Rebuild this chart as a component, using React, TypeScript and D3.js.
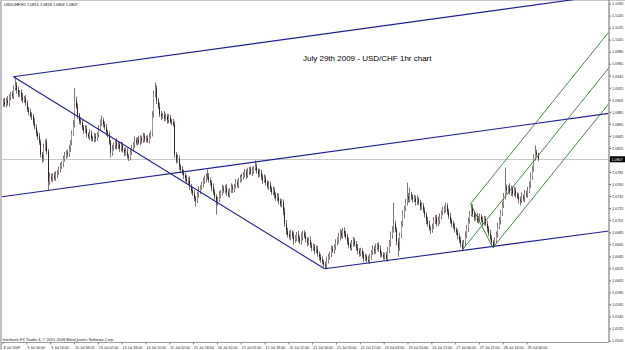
import React from 'react';
import * as d3 from 'd3';

const symbolHeader = 'USDCHF,H1  1.0815 1.0818 1.0804 1.0807';
const chartTitle = 'July 29th 2009 - USD/CHF 1hr chart';
const copyright = 'Interbank FX Trader 4, \u00a9 2001-2008 MetaQuotes Software Corp.';
const lastPriceLabel = '1.0807';
const lastPrice = 1.0807;

const timeLabels = [
  '8 Jul 2009', '9 Jul 00:00', '9 Jul 16:00', '10 Jul 08:00', '13 Jul 02:00', '13 Jul 18:00',
  '14 Jul 10:00', '15 Jul 02:00', '15 Jul 18:00', '16 Jul 10:00', '17 Jul 02:00', '17 Jul 18:00',
  '20 Jul 12:00', '21 Jul 04:00', '21 Jul 20:00', '22 Jul 12:00', '23 Jul 04:00', '23 Jul 20:00',
  '24 Jul 12:00', '27 Jul 06:00', '27 Jul 22:00', '28 Jul 14:00', '29 Jul 06:00',
];
const barsPerTimeLabel = 16;

const priceLabels = [
  '1.1065', '1.1045', '1.1025', '1.1005', '1.0985', '1.0965', '1.0945', '1.0925', '1.0905', '1.0885',
  '1.0865', '1.0845', '1.0825', '1.0805', '1.0785', '1.0765', '1.0745', '1.0725', '1.0705', '1.0685',
  '1.0665', '1.0645', '1.0625', '1.0605', '1.0585', '1.0565', '1.0545', '1.0525', '1.0505',
];

// prices in pips above 1.0000
const firstOpen = 900;
const closes = [
  903, 898, 905, 900, 910, 915, 912, 925, 930, 922, 915, 918, 910, 905, 908, 900,
  890, 885, 880, 878, 868, 860, 850, 845, 835, 815, 808, 825, 835, 820, 770, 778,
  775, 780, 776, 782, 785, 790, 795, 800, 808, 812, 818, 815, 825, 835, 850, 865,
  905, 895, 880, 870, 868, 860, 855, 858, 848, 845, 850, 842, 840, 845, 842, 848,
  858, 868, 872, 865, 860, 852, 848, 835, 818, 825, 830, 835, 828, 832, 825, 830,
  822, 818, 820, 812, 810, 818, 825, 832, 838, 835, 840, 836, 842, 838, 845, 840,
  842, 838, 845, 850, 880, 915, 925, 905, 895, 882, 878, 880, 875, 878, 872, 876,
  870, 868, 865, 815, 805, 808, 795, 790, 785, 780, 775, 770, 772, 762, 755, 750,
  742, 738, 748, 755, 760, 765, 770, 775, 780, 778, 772, 768, 760, 752, 745, 735,
  740, 748, 752, 758, 755, 760, 752, 748, 755, 760, 757, 762, 768, 765, 772, 775,
  778, 782, 785, 780, 786, 790, 785, 788, 792, 795, 788, 782, 785, 778, 772, 775,
  768, 762, 765, 758, 752, 755, 748, 742, 745, 738, 732, 735, 720, 700, 688, 682,
  678, 685, 680, 672, 676, 682, 675, 670, 678, 684, 680, 674, 668, 672, 665, 660,
  662, 655, 658, 650, 645, 640, 636, 632, 630, 638, 645, 650, 658, 655, 662, 668,
  672, 678, 685, 680, 688, 684, 678, 670, 665, 660, 668, 672, 666, 660, 655, 650,
  655, 648, 642, 645, 640, 638, 645, 652, 658, 655, 660, 664, 658, 650, 648, 645,
  648, 642, 655, 668, 680, 690, 700, 690, 670, 660, 680, 700, 715, 725, 735, 745,
  740, 748, 745, 740, 742, 736, 740, 735, 728, 730, 722, 715, 705, 700, 692, 690,
  695, 705, 710, 700, 705, 712, 718, 722, 725, 730, 720, 712, 705, 700, 695, 690,
  686, 680, 673, 666, 661, 668, 680, 692, 705, 716, 726, 716, 710, 712, 705, 708,
  712, 706, 702, 708, 700, 692, 684, 676, 669, 663, 672, 682, 695, 705, 718, 730,
  745, 760, 755, 760, 752, 758, 750, 755, 748, 745, 740, 738, 745, 742, 750, 748,
  755, 765, 778, 790, 810, 818, 815, 807,
];
const wickUp = [
  5, 6, 4, 7, 5, 4, 6, 5, 13, 5, 6, 4, 5, 7, 4, 6,
  5, 4, 6, 5, 4, 7, 5, 4, 6, 5, 4, 8, 5, 6, 4, 7,
  5, 4, 6, 5, 4, 5, 6, 4, 5, 7, 4, 5, 6, 4, 5, 7,
  20, 6, 5, 4, 7, 5, 4, 6, 5, 4, 7, 5, 4, 6, 5, 4,
  6, 5, 8, 4, 5, 6, 4, 5, 4, 6, 5, 4, 7, 5, 4, 6,
  5, 4, 6, 5, 4, 5, 6, 4, 7, 5, 4, 6, 5, 4, 6, 5,
  4, 5, 6, 5, 7, 6, 10, 5, 4, 6, 5, 4, 7, 5, 4, 6,
  5, 4, 6, 5, 4, 7, 5, 4, 6, 5, 4, 6, 5, 7, 4, 5,
  6, 4, 5, 7, 4, 5, 6, 5, 4, 10, 6, 5, 4, 7, 5, 4,
  5, 6, 4, 7, 5, 4, 6, 5, 4, 7, 5, 4, 6, 5, 4, 6,
  5, 4, 6, 5, 7, 4, 5, 6, 4, 10, 5, 4, 6, 5, 4, 7,
  5, 4, 6, 5, 4, 7, 5, 4, 6, 5, 4, 6, 5, 7, 6, 5,
  6, 5, 4, 7, 5, 4, 6, 5, 7, 4, 5, 6, 4, 5, 7, 4,
  5, 4, 6, 5, 4, 5, 6, 4, 5, 7, 5, 4, 6, 5, 4, 6,
  5, 7, 6, 4, 5, 6, 4, 5, 7, 4, 5, 6, 4, 5, 6, 4,
  5, 4, 6, 5, 4, 7, 5, 4, 6, 5, 7, 4, 5, 6, 4, 5,
  4, 5, 6, 5, 7, 6, 35, 5, 4, 6, 5, 4, 7, 5, 6, 23,
  6, 12, 5, 4, 6, 5, 7, 4, 5, 6, 4, 5, 4, 6, 5, 4,
  5, 6, 4, 5, 7, 5, 4, 6, 5, 5, 4, 5, 6, 4, 5, 6,
  4, 5, 4, 5, 6, 5, 7, 6, 5, 5, 7, 6, 5, 4, 6, 5,
  5, 4, 6, 5, 4, 5, 4, 6, 5, 4, 6, 5, 7, 6, 5, 7,
  6, 33, 5, 4, 7, 5, 4, 6, 5, 4, 6, 5, 7, 4, 6, 5,
  6, 5, 7, 6, 5, 12, 5, 3,
];
const wickDown = [
  6, 4, 5, 4, 6, 5, 4, 5, 4, 6, 5, 4, 6, 5, 4, 5,
  4, 5, 4, 6, 5, 4, 5, 6, 4, 5, 7, 5, 4, 5, 15, 6,
  5, 6, 4, 5, 6, 4, 5, 4, 6, 5, 4, 5, 4, 6, 5, 4,
  5, 4, 6, 5, 4, 5, 6, 4, 5, 4, 6, 5, 4, 5, 6, 4,
  5, 4, 6, 5, 4, 6, 5, 4, 8, 5, 4, 6, 5, 4, 6, 5,
  4, 6, 5, 4, 6, 5, 4, 5, 6, 4, 5, 4, 6, 5, 4, 5,
  5, 4, 5, 4, 5, 4, 5, 6, 4, 5, 6, 4, 5, 4, 6, 5,
  4, 5, 4, 6, 5, 4, 6, 5, 4, 6, 5, 4, 5, 6, 5, 4,
  5, 10, 4, 5, 6, 4, 5, 4, 6, 5, 4, 5, 6, 4, 5, 20,
  5, 4, 6, 5, 4, 5, 6, 4, 5, 4, 6, 5, 4, 5, 6, 4,
  5, 4, 5, 6, 4, 5, 4, 6, 5, 4, 5, 6, 4, 5, 6, 4,
  5, 4, 6, 5, 4, 5, 6, 4, 5, 6, 4, 5, 6, 5, 7, 5,
  4, 6, 5, 7, 4, 5, 6, 4, 5, 6, 4, 5, 6, 4, 5, 6,
  5, 6, 4, 5, 6, 5, 4, 5, 5, 5, 4, 5, 6, 4, 5, 6,
  4, 5, 6, 4, 5, 6, 4, 5, 6, 4, 5, 6, 4, 5, 6, 5,
  4, 5, 6, 4, 5, 4, 5, 5, 4, 6, 5, 4, 5, 6, 4, 5,
  5, 3, 5, 4, 6, 5, 5, 4, 6, 15, 5, 4, 5, 6, 4, 5,
  5, 4, 6, 5, 4, 6, 5, 4, 6, 5, 4, 5, 6, 5, 4, 7,
  5, 4, 6, 5, 4, 6, 5, 4, 5, 6, 5, 4, 5, 6, 4, 5,
  5, 6, 5, 5, 6, 4, 5, 4, 6, 5, 4, 5, 6, 5, 4, 5,
  5, 4, 6, 5, 4, 6, 5, 4, 5, 3, 2, 4, 5, 4, 6, 5,
  4, 5, 6, 5, 4, 6, 5, 4, 5, 4, 6, 8, 4, 5, 6, 4,
  5, 4, 6, 5, 4, 5, 4, 3,
];

// trendline anchors: [bar index, price]
const trendLines = [
  { from: [7, 1.0944], to: [359, 1.1064], left: false, right: true },
  { from: [7, 1.0944], to: [216, 1.0625], left: false, right: false },
  { from: [216, 1.0625], to: [359, 1.0672], left: false, right: true },
  { from: [0, 1.0745], to: [359, 1.0867], left: true, right: true },
];
// Andrews pitchfork anchors
const pitchA = [308, 1.0655];
const pitchB = [314, 1.0733];
const pitchC = [329, 1.0660];

const W = 625;
const H = 350;
const plotLeft = 2;
const plotRight = 608.5;
const plotTop = 0;
const plotBottom = 342.5;
const FONT = 'Liberation Sans, Arial, sans-serif';

const pip = (v: number) => 1 + v / 10000;

export default function App() {
  const n = closes.length;
  const x = d3.scaleLinear().domain([0, n - 1]).range([3, 3 + (n - 1) * 1.489]);
  const y = d3.scaleLinear().domain([1.0505, 1.1065]).range([341, 4]);

  const candles = closes.map((c, i) => {
    const o = i === 0 ? firstOpen : closes[i - 1];
    const hi = Math.max(o, c) + wickUp[i];
    const lo = Math.min(o, c) - wickDown[i];
    return { i, o: pip(o), c: pip(c), h: pip(hi), l: pip(lo) };
  });

  const lineSeg = (p1: number[], p2: number[], left: boolean, right: boolean) => {
    let x1 = x(p1[0]), y1 = y(p1[1]), x2 = x(p2[0]), y2 = y(p2[1]);
    const k = (y2 - y1) / (x2 - x1);
    const ax = x1, ay = y1;
    if (left) { x1 = plotLeft - 5; y1 = ay + k * (x1 - ax); }
    if (right) { x2 = plotRight + 5; y2 = ay + k * (x2 - ax); }
    return [x1, y1, x2, y2];
  };

  const pa = [x(pitchA[0]), y(pitchA[1])];
  const pb = [x(pitchB[0]), y(pitchB[1])];
  const pc = [x(pitchC[0]), y(pitchC[1])];
  const mid = [(pb[0] + pc[0]) / 2, (pb[1] + pc[1]) / 2];
  const slope = (mid[1] - pa[1]) / (mid[0] - pa[0]);
  const ray = (p: number[]) => {
    const xe = plotRight + 5;
    return [p[0], p[1], xe, p[1] + slope * (xe - p[0])];
  };
  const pitchLines = [ray(pa), ray(pb), ray(pc), [pb[0], pb[1], pc[0], pc[1]]];

  const blue = '#1e1e96';
  const green = '#2f7a2f';

  return (
    <div style={{ position: 'absolute', left: 0, top: 0 }}>
      <svg width={W} height={H} style={{ display: 'block', background: '#fff' }}>
        <defs>
          <clipPath id="plot">
            <rect x={plotLeft} y={plotTop} width={plotRight - plotLeft} height={plotBottom - plotTop} />
          </clipPath>
        </defs>
        <rect x={0} y={0} width={W} height={H} fill="#fff" />
        <rect x={0} y={0} width={2} height={H} fill="#c0c0c0" />
        <rect x={0} y={0} width={W} height={1} fill="#c8c8c8" />

        <text x={4} y={6} fontSize={3.9} fontFamily={FONT} fill="#000">{symbolHeader}</text>

        <g clipPath="url(#plot)">
          <line x1={plotLeft} x2={plotRight} y1={Math.round(y(lastPrice)) + 0.5} y2={Math.round(y(lastPrice)) + 0.5} stroke="#c8c8c8" strokeWidth={1} />

          {candles.map(d => {
            const cx = Math.round(x(d.i));
            const top = y(Math.max(d.o, d.c));
            const bot = y(Math.min(d.o, d.c));
            const up = d.c >= d.o;
            return (
              <g key={d.i}>
                <line x1={cx + 0.5} x2={cx + 0.5} y1={y(d.h)} y2={y(d.l)} stroke="#7d7274" strokeWidth={1} />
                <rect x={cx} y={top} width={1} height={Math.max(1, bot - top)} fill={up ? '#a09496' : '#2e2626'} />
              </g>
            );
          })}

          {trendLines.map((t, k) => {
            const [x1, y1, x2, y2] = lineSeg(t.from, t.to, t.left, t.right);
            return <line key={'t' + k} x1={x1} y1={y1} x2={x2} y2={y2} stroke={blue} strokeWidth={1.1} />;
          })}
          {pitchLines.map((l, k) => (
            <line key={'p' + k} x1={l[0]} y1={l[1]} x2={l[2]} y2={l[3]} stroke={green} strokeWidth={0.9} />
          ))}
        </g>

        <text x={303} y={61} fontSize={8} fontFamily={FONT} fill="#000">{chartTitle}</text>

        <line x1={plotRight + 0.5} x2={plotRight + 0.5} y1={0} y2={plotBottom} stroke="#9a9a9a" strokeWidth={1.5} />
        {priceLabels.map((lab, k) => {
          const v = +lab;
          const yy = y(v);
          return (
            <g key={'pl' + k}>
              <line x1={plotRight + 1} x2={plotRight + 2.5} y1={yy} y2={yy} stroke="#333" strokeWidth={0.8} />
              <text x={612} y={yy + 1.3} fontSize={3.7} fontFamily={FONT} fill="#222">{lab}</text>
            </g>
          );
        })}
        <rect x={610} y={y(lastPrice) - 3} width={15} height={6} fill="#000" />
        <text x={611.5} y={y(lastPrice) + 1.4} fontSize={3.7} fontFamily={FONT} fill="#fff">{lastPriceLabel}</text>

        <text x={2.5} y={341.3} fontSize={3.9} fontFamily={FONT} fill="#222">{copyright}</text>
        <line x1={plotLeft} x2={plotRight} y1={plotBottom} y2={plotBottom} stroke="#9a9a9a" strokeWidth={1} />
        {timeLabels.map((lab, k) => {
          const xx = x(k * barsPerTimeLabel);
          return (
            <g key={'tl' + k}>
              <line x1={xx} x2={xx} y1={plotBottom} y2={plotBottom + 2} stroke="#333" strokeWidth={0.6} />
              <text x={xx + 0.5} y={348.6} fontSize={3.6} fontFamily={FONT} fill="#222">{lab}</text>
            </g>
          );
        })}
      </svg>
    </div>
  );
}
